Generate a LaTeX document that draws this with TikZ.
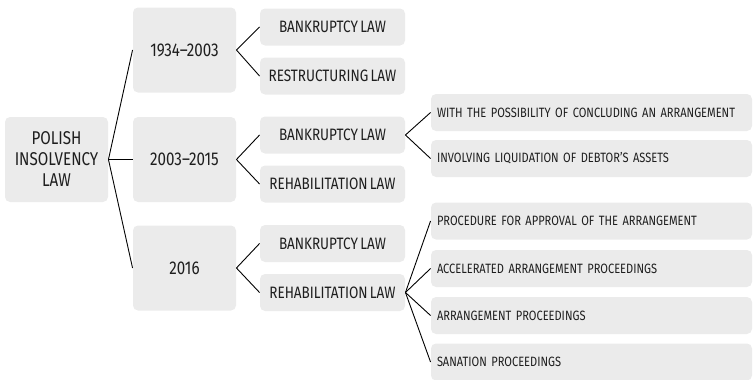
\documentclass[tikz,border=0pt]{standalone}
\usepackage{fontspec}
\setmainfont{Fira Sans}[FakeStretch=0.82,WordSpace=0.65]
\usepackage{xcolor}
\usetikzlibrary{positioning}

\definecolor{boxgray}{HTML}{EBEBEB}
\definecolor{ink}{HTML}{1E1E1E}

\begin{document}
\begin{tikzpicture}[x=1pt,y=-1pt,line width=0.9pt,every node/.style={font=\fontsize{16.5}{20}\selectfont,text=ink}]
\tikzstyle{box}=[fill=boxgray,rounded corners=5pt,align=center,inner sep=0pt]
\tikzstyle{big}=[box,minimum width=103pt,minimum height=85pt,font=\fontsize{18.5}{21}\selectfont]
\tikzstyle{law}=[box,minimum width=145pt,minimum height=37pt]
\tikzstyle{kind}=[box,text width=309pt,inner xsep=6pt,minimum height=37pt,align=left,font=\fontsize{13.5}{16}\selectfont]
\useasboundingbox (0,0) rectangle (753,380);
% root and periods
\node[big] (root) at (56.5,159.5) {POLISH\\INSOLVENCY\\LAW};
\node[big] (y1) at (184.5,50) {1934–2003};
\node[big] (y2) at (184.5,159.5) {2003–2015};
\node[big] (y3) at (184.5,268) {2016};
% laws of each period
\node[law] (b1) at (332.5,27) {BANKRUPTCY LAW};
\node[law] (r1) at (332.5,76) {RESTRUCTURING LAW};
\node[law] (b2) at (332.5,135) {BANKRUPTCY LAW};
\node[law] (h2) at (332.5,184) {REHABILITATION LAW};
\node[law] (b3) at (332.5,243.5) {BANKRUPTCY LAW};
\node[law] (h3) at (332.5,292.5) {REHABILITATION LAW};
% kinds of proceedings
\node[kind] (p1) at (591.5,112.5) {WITH THE POSSIBILITY OF CONCLUDING AN ARRANGEMENT};
\node[kind] (p2) at (591.5,158.5) {INVOLVING LIQUIDATION OF DEBTOR'S ASSETS};
\node[kind] (s1) at (591.5,221) {PROCEDURE FOR APPROVAL OF THE ARRANGEMENT};
\node[kind] (s2) at (591.5,268.5) {ACCELERATED ARRANGEMENT PROCEEDINGS};
\node[kind] (s3) at (591.5,315.5) {ARRANGEMENT PROCEEDINGS};
\node[kind] (s4) at (591.5,362) {SANATION PROCEEDINGS};
% branches
\foreach \c in {y1,y2,y3} \draw (root.east) -- (\c.west);
\foreach \c in {b1,r1} \draw (y1.east) -- (\c.west);
\foreach \c in {b2,h2} \draw (y2.east) -- (\c.west);
\foreach \c in {b3,h3} \draw (y3.east) -- (\c.west);
\foreach \c in {p1,p2} \draw (b2.east) -- (\c.west);
\foreach \c in {s1,s2,s3,s4} \draw (h3.east) -- (\c.west);
\end{tikzpicture}
\end{document}
